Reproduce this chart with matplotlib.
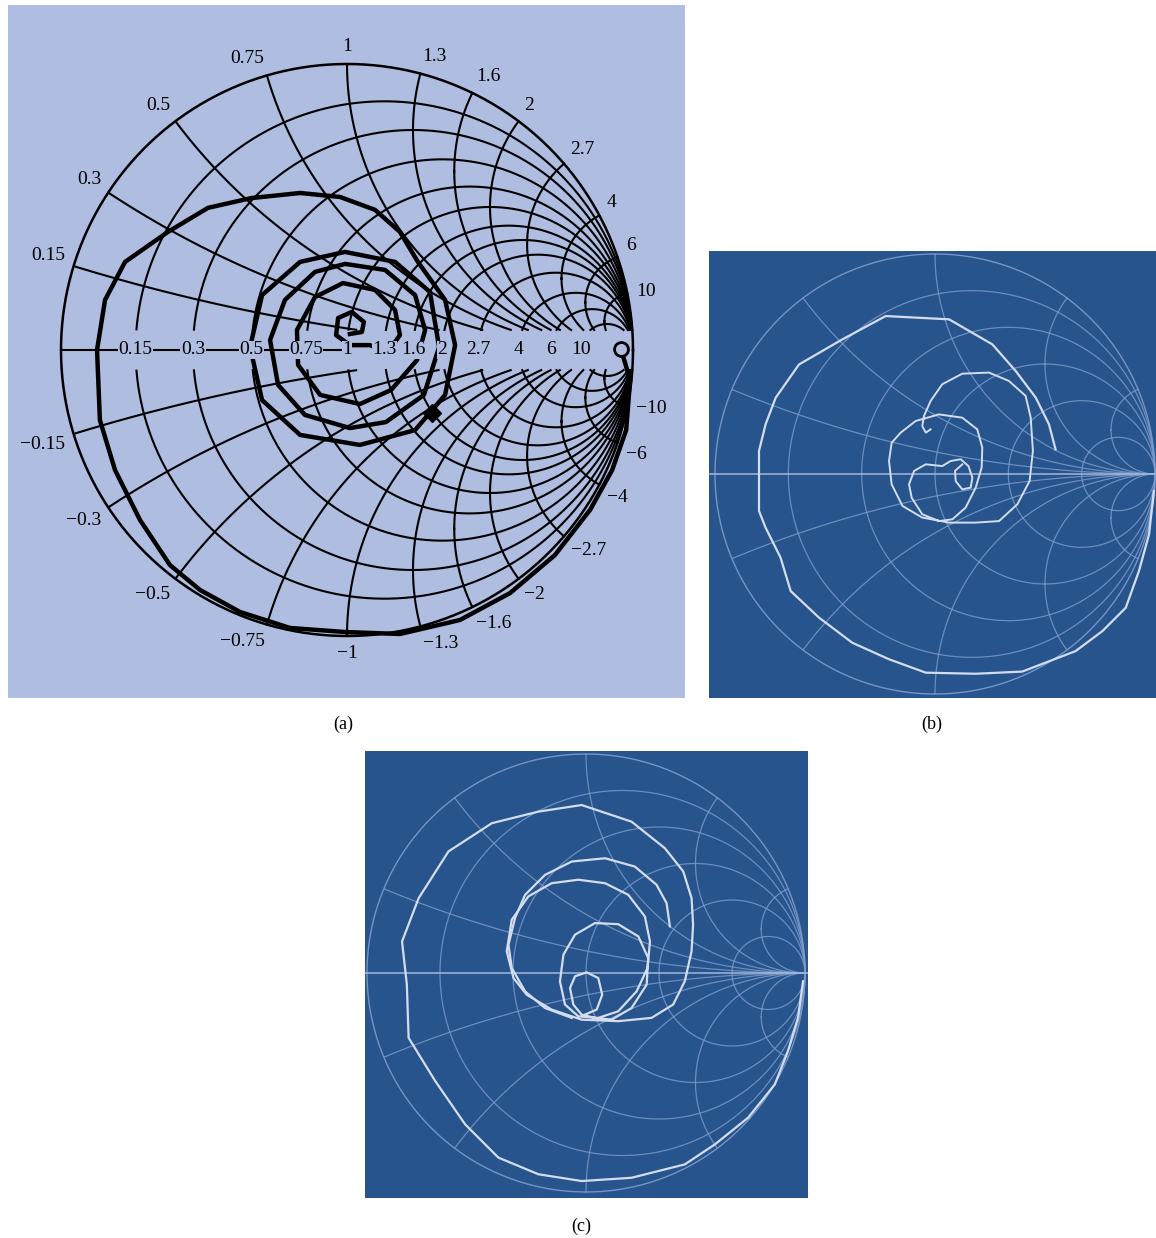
import numpy as np
import matplotlib
matplotlib.use("Agg")
import matplotlib.pyplot as plt

# grid values of the black chart (resistance circles / reactance arcs)
R_VALS = [0.15, 0.3, 0.5, 0.75, 1, 1.3, 1.6, 2, 2.7, 4, 6, 10]
X_VALS = [0.15, 0.3, 0.5, 0.75, 1, 1.3, 1.6, 2, 2.7, 4, 6, 10]
TICK_LABELS = ['0.15', '0.3', '0.5', '0.75', '1', '1.3', '1.6', '2', '2.7', '4', '6', '10']

# grid values of the two blue charts
R_BLUE = [0.2, 0.5, 1, 2, 5]
X_BLUE = [0.2, 0.5, 1, 2, 5]

# trace (a): reflection coefficient, real / imaginary part
A_RE = [0.958, 0.990, 0.976, 0.927, 0.850, 0.727, 0.570, 0.395, 0.185, -0.007,
        -0.199, -0.374, -0.514, -0.619, -0.724, -0.811, -0.864, -0.874, -0.846,
        -0.776, -0.626, -0.486, -0.336, -0.164, -0.024, 0.098, 0.185, 0.248,
        0.343, 0.378, 0.343, 0.238, 0.045, -0.164, -0.297, -0.339, -0.297,
        -0.164, -0.007, 0.168, 0.290,
        0.322, 0.269, 0.136, 0.010, -0.147, -0.241, -0.269, -0.217, -0.112,
        -0.007, 0.133, 0.238, 0.273,
        0.245, 0.154, 0.045, -0.094, -0.171, -0.175, -0.112, -0.014, 0.098,
        0.168, 0.185, 0.143,
        0.080, 0.010, -0.038, -0.031, 0.017, 0.059, 0.052, 0.010]
A_IM = [0.003, -0.105, -0.280, -0.420, -0.559, -0.717, -0.850, -0.944, -0.993, -0.986,
        -0.972, -0.916, -0.839, -0.752, -0.594, -0.420, -0.245, 0.000, 0.175,
        0.308, 0.413, 0.497, 0.531, 0.549, 0.535, 0.490, 0.413, 0.308,
        0.175, 0.017, -0.157, -0.280, -0.332, -0.297, -0.175, 0.010, 0.192,
        0.308, 0.343, 0.308, 0.203,
        0.010, -0.157, -0.252, -0.273, -0.227, -0.122, 0.035, 0.175, 0.273,
        0.301, 0.280, 0.192, 0.070,
        -0.035, -0.140, -0.189, -0.157, -0.052, 0.070, 0.185, 0.234, 0.210,
        0.140, 0.052, -0.007,
        0.017, 0.017, 0.052, 0.112, 0.133, 0.098, 0.063, 0.056]
A_END = (0.297, -0.220)

# trace (b)
B_OUT_RE = [0.995, 0.973, 0.927, 0.867, 0.761, 0.639, 0.397, 0.185, -0.042, -0.209,
            -0.376, -0.527, -0.656, -0.702, -0.770, -0.800, -0.800, -0.770, -0.724,
            -0.618, -0.421, -0.224, 0.064, 0.261, 0.367, 0.458, 0.518, 0.548]
B_OUT_IM = [-0.077, -0.274, -0.441, -0.608, -0.714, -0.805, -0.898, -0.908, -0.903, -0.842,
            -0.767, -0.653, -0.532, -0.380, -0.244, -0.168, 0.105, 0.226, 0.347,
            0.498, 0.612, 0.718, 0.703, 0.589, 0.468, 0.347, 0.226, 0.112]
B_IN_RE = [-0.020, -0.042, -0.058, -0.050, -0.020, 0.033, 0.124, 0.245, 0.336, 0.412,
           0.435, 0.445, 0.430, 0.374, 0.291, 0.185, 0.064, -0.058, -0.148, -0.197,
           -0.209, -0.197, -0.156, -0.088, 0.018, 0.124, 0.192, 0.215, 0.212, 0.185,
           0.139, 0.079, 0.018, -0.058, -0.106, -0.118, -0.095, -0.042, 0.033, 0.071,
           0.117, 0.152, 0.170, 0.162, 0.124, 0.094, 0.091, 0.124]
B_IN_IM = [0.203, 0.188, 0.218, 0.264, 0.332, 0.408, 0.456, 0.461, 0.423, 0.355,
           0.256, 0.105, -0.032, -0.138, -0.214, -0.221, -0.221, -0.198, -0.145, -0.047,
           0.059, 0.142, 0.188, 0.241, 0.271, 0.256, 0.203, 0.120, 0.029, -0.062,
           -0.153, -0.206, -0.214, -0.183, -0.108, -0.047, 0.014, 0.044, 0.036, 0.059,
           0.067, 0.036, -0.017, -0.062, -0.070, -0.032, 0.014, 0.044]

# trace (c)
C_OUT_RE = [0.991, 0.968, 0.922, 0.862, 0.740, 0.588, 0.451, 0.208, -0.020, -0.217,
            -0.400, -0.552, -0.688, -0.810, -0.818, -0.840, -0.764, -0.628, -0.430,
            -0.217, -0.020, 0.208, 0.360, 0.444, 0.482, 0.489, 0.482, 0.451, 0.398,
            0.299, 0.147, -0.020, -0.157, -0.271, -0.331, -0.362, -0.339, -0.263,
            -0.157, -0.035, 0.087, 0.193, 0.269, 0.292, 0.281, 0.231, 0.147, 0.056,
            -0.035, -0.096, -0.119, -0.103, -0.050, 0.041, 0.147, 0.239, 0.284, 0.277,
            0.208, 0.117, 0.041, -0.020, -0.058, -0.073, -0.050, 0.003, 0.056, 0.074,
            0.049, -0.005]
C_OUT_IM = [-0.038, -0.205, -0.357, -0.509, -0.661, -0.783, -0.874, -0.935, -0.950, -0.919,
            -0.843, -0.691, -0.494, -0.296, -0.053, 0.144, 0.342, 0.555, 0.684,
            0.737, 0.767, 0.691, 0.570, 0.464, 0.342, 0.220, 0.099, -0.038, -0.144,
            -0.205, -0.220, -0.213, -0.167, -0.099, -0.023, 0.099, 0.243, 0.350,
            0.410, 0.426, 0.410, 0.357, 0.258, 0.144, 0.023, -0.084, -0.175, -0.205,
            -0.198, -0.144, -0.038, 0.084, 0.175, 0.228, 0.223, 0.167, 0.068, -0.053,
            -0.160, -0.213, -0.205, -0.190, -0.144, -0.068, -0.015, 0.003, -0.023, -0.099,
            -0.167, -0.190]
C_ARM_RE = [0.383, 0.368, 0.322, 0.223, 0.087, -0.065, -0.187, -0.278, -0.324, -0.354,
            -0.339, -0.278, -0.187, -0.065]
C_ARM_IM = [0.213, 0.319, 0.403, 0.486, 0.524, 0.509, 0.448, 0.357, 0.251, 0.129,
            0.023, -0.084, -0.160, -0.205]

LAVENDER = '#aebde0'
NAVY = '#27548d'
GRID_BLUE = '#7d9ccb'
TRACE_BLUE = '#d3ddef'


def r_circle(r, n=2000):
    t = np.linspace(0, 2 * np.pi, n)
    c, rad = r / (1 + r), 1 / (1 + r)
    return c + rad * np.cos(t), rad * np.sin(t)


def x_arc(x, n=4000):
    t = np.linspace(-np.pi, np.pi, n)
    rad = 1 / abs(x)
    gx = 1 + rad * np.cos(t)
    gy = 1 / x + rad * np.sin(t)
    out = gx ** 2 + gy ** 2 > 1.0
    gx[out] = np.nan
    return gx, gy


def cut_gap(gx, gy, gap):
    gx = gx.copy()
    gx[np.abs(gy) < gap] = np.nan
    return gx, gy


fig = plt.figure(figsize=(11.56, 12.38), dpi=100)
W, H = 1156, 1238


def panel(x0, y0, x1, y1, cx, cy, rad):
    ax = fig.add_axes([x0 / W, 1 - y1 / H, (x1 - x0) / W, (y1 - y0) / H])
    ax.set_xlim((x0 - cx) / rad, (x1 - cx) / rad)
    ax.set_ylim((cy - y1) / rad, (cy - y0) / rad)
    ax.set_xticks([])
    ax.set_yticks([])
    for s in ax.spines.values():
        s.set_visible(False)
    return ax


serif = ['Liberation Serif', 'DejaVu Serif']
t = np.linspace(0, 2 * np.pi, 800)

# ---- (a) black chart on lavender
ax = panel(8, 5, 685, 698, 347, 350, 286)
ax.set_facecolor(LAVENDER)
gap = 0.07
for r in R_VALS:
    gx, gy = cut_gap(*r_circle(r), gap)
    ax.plot(gx, gy, color='k', lw=1.5)
for x in X_VALS:
    for sx in (x, -x):
        gx, gy = cut_gap(*x_arc(sx), gap)
        ax.plot(gx, gy, color='k', lw=1.5)
ax.plot(np.cos(t), np.sin(t), color='k', lw=1.8)
ax.plot([-1, 0], [0, 0], color='k', lw=1.5)

for r, lab in zip(R_VALS, TICK_LABELS):
    ax.text((r - 1) / (r + 1), 0, lab, ha='center', va='center', fontsize=14,
            family=serif, bbox=dict(facecolor=LAVENDER, edgecolor='none', pad=0.3))

for x, lab in zip(X_VALS, TICK_LABELS):
    for sgn in (1, -1):
        th = sgn * (np.pi - 2 * np.arctan(x))
        c, s = np.cos(th), np.sin(th)
        ha = 'right' if c < -0.25 else ('left' if c > 0.25 else 'center')
        va = 'bottom' if s > 0.25 else ('top' if s < -0.25 else 'center')
        txt = lab if sgn > 0 else '\u2212' + lab
        ax.text(1.03 * c, 1.03 * s, txt, ha=ha, va=va, fontsize=14, family=serif)

ax.plot(A_RE, A_IM, color='k', lw=3.2, solid_joinstyle='round')
ax.plot(A_RE[0], A_IM[0], 'o', ms=10, mfc=LAVENDER, mec='k', mew=2)
ax.plot(*A_END, 'D', ms=9, color='k')


# ---- (b) and (c) light charts on navy
def blue_chart(ax):
    ax.set_facecolor(NAVY)
    for r in R_BLUE:
        ax.plot(*r_circle(r), color=GRID_BLUE, lw=0.9, alpha=0.8)
    for x in X_BLUE:
        for sx in (x, -x):
            ax.plot(*x_arc(sx), color=GRID_BLUE, lw=0.9, alpha=0.8)
    ax.plot(np.cos(t), np.sin(t), color=GRID_BLUE, lw=1.0, alpha=0.9)
    ax.axhline(0, color='#a5b9dc', lw=1.2, alpha=0.9)


ax = panel(709, 251, 1156, 698, 935, 474, 220)
blue_chart(ax)
ax.plot(B_OUT_RE, B_OUT_IM, color=TRACE_BLUE, lw=1.6)
ax.plot(B_IN_RE, B_IN_IM, color=TRACE_BLUE, lw=1.4)

ax = panel(365, 751, 808, 1198, 586, 973, 219)
blue_chart(ax)
ax.plot(C_OUT_RE, C_OUT_IM, color=TRACE_BLUE, lw=1.6)
ax.plot(C_ARM_RE, C_ARM_IM, color=TRACE_BLUE, lw=1.6)

for lab, px, py in [('(a)', 343, 724), ('(b)', 932, 724), ('(c)', 581, 1226)]:
    fig.text(px / W, 1 - py / H, lab, ha='center', va='center', fontsize=13,
             family=serif)

fig.savefig('out.png', dpi=100, facecolor='white')
